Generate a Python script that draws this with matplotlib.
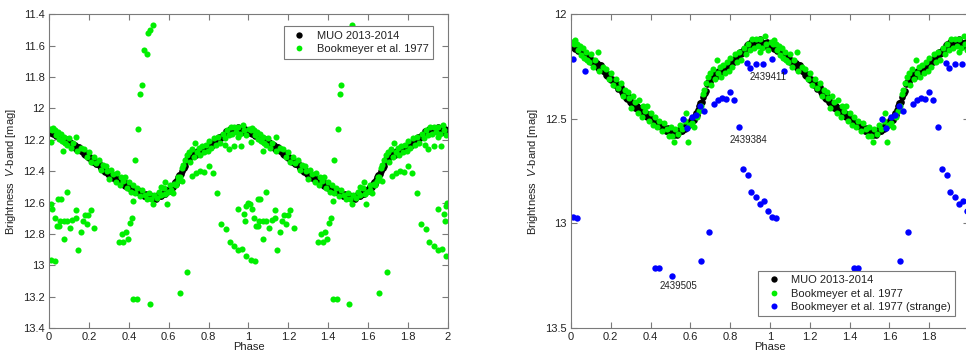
import numpy as np
import matplotlib
matplotlib.use('Agg')
import matplotlib.pyplot as plt
from matplotlib.ticker import FuncFormatter

plt.rcParams['font.family'] = ['Liberation Sans', 'DejaVu Sans']
plt.rcParams['mathtext.fontset'] = 'custom'
plt.rcParams['mathtext.it'] = 'Liberation Sans:italic'
plt.rcParams['mathtext.rm'] = 'Liberation Sans'

# MUO 2013-2014 photometry, one cycle (phase, V mag)
muo_phase = [
    0.000, 0.010, 0.020, 0.030, 0.040, 0.050, 0.060, 0.070, 0.080, 0.090,
    0.100, 0.110, 0.120, 0.130, 0.140, 0.150, 0.160, 0.170, 0.180, 0.190,
    0.200, 0.210, 0.220, 0.230, 0.240, 0.250, 0.260, 0.270, 0.280, 0.290,
    0.300, 0.310, 0.320, 0.330, 0.340, 0.350, 0.360, 0.370, 0.380, 0.390,
    0.400, 0.410, 0.420, 0.430, 0.440, 0.450, 0.460, 0.470, 0.480, 0.490,
    0.500, 0.510, 0.520, 0.530, 0.540, 0.550, 0.560, 0.570, 0.580, 0.590,
    0.600, 0.610, 0.620, 0.630, 0.640, 0.650, 0.660, 0.670, 0.680, 0.690,
    0.700, 0.710, 0.720, 0.730, 0.740, 0.750, 0.760, 0.770, 0.780, 0.790,
    0.800, 0.810, 0.820, 0.830, 0.840, 0.850, 0.860, 0.870, 0.880, 0.890,
    0.900, 0.910, 0.920, 0.930, 0.940, 0.950, 0.960, 0.970, 0.980, 0.990,
    0.005, 0.015, 0.025, 0.035, 0.045, 0.055, 0.065, 0.075, 0.085, 0.095,
    0.105, 0.115, 0.125, 0.135, 0.145, 0.155, 0.165, 0.175, 0.185, 0.195,
    0.205, 0.215, 0.225, 0.235, 0.245, 0.255, 0.265, 0.275, 0.285, 0.295,
    0.305, 0.315, 0.325, 0.335, 0.345, 0.355, 0.365, 0.375, 0.385, 0.395,
    0.405, 0.415, 0.425, 0.435, 0.445, 0.455, 0.465, 0.475, 0.485, 0.495,
    0.505, 0.515, 0.525, 0.535, 0.545, 0.555, 0.565, 0.575, 0.585, 0.595,
    0.605, 0.615, 0.625, 0.635, 0.645, 0.655, 0.665, 0.675, 0.685, 0.695,
    0.705, 0.715, 0.725, 0.735, 0.745, 0.755, 0.765, 0.775, 0.785, 0.795,
    0.805, 0.815, 0.825, 0.835, 0.845, 0.855, 0.865, 0.875, 0.885, 0.895,
    0.905, 0.915, 0.925, 0.935, 0.945, 0.955, 0.965, 0.975, 0.985, 0.995,
]
muo_mag = [
    12.156, 12.148, 12.165, 12.152, 12.170, 12.167, 12.193, 12.192, 12.212, 12.205,
    12.226, 12.223, 12.244, 12.233, 12.250, 12.244, 12.273, 12.275, 12.297, 12.293,
    12.316, 12.316, 12.340, 12.332, 12.352, 12.349, 12.379, 12.382, 12.405, 12.402,
    12.426, 12.424, 12.446, 12.436, 12.454, 12.449, 12.475, 12.474, 12.493, 12.486,
    12.506, 12.503, 12.524, 12.513, 12.530, 12.524, 12.547, 12.543, 12.559, 12.549,
    12.566, 12.560, 12.577, 12.562, 12.567, 12.547, 12.557, 12.541, 12.544, 12.522,
    12.526, 12.503, 12.503, 12.472, 12.459, 12.422, 12.417, 12.381, 12.366, 12.324,
    12.323, 12.299, 12.300, 12.277, 12.282, 12.264, 12.277, 12.261, 12.264, 12.242,
    12.246, 12.226, 12.230, 12.202, 12.202, 12.179, 12.187, 12.168, 12.169, 12.144,
    12.146, 12.134, 12.146, 12.126, 12.134, 12.119, 12.141, 12.136, 12.151, 12.140,
    12.144, 12.159, 12.155, 12.175, 12.164, 12.186, 12.189, 12.207, 12.197, 12.219,
    12.217, 12.236, 12.235, 12.256, 12.243, 12.265, 12.271, 12.291, 12.284, 12.308,
    12.308, 12.330, 12.332, 12.356, 12.346, 12.370, 12.377, 12.398, 12.392, 12.417,
    12.417, 12.437, 12.437, 12.459, 12.447, 12.468, 12.471, 12.488, 12.478, 12.499,
    12.497, 12.516, 12.515, 12.536, 12.523, 12.542, 12.542, 12.556, 12.543, 12.561,
    12.555, 12.571, 12.566, 12.579, 12.553, 12.558, 12.546, 12.547, 12.522, 12.527,
    12.507, 12.505, 12.484, 12.480, 12.436, 12.426, 12.396, 12.378, 12.334, 12.327,
    12.303, 12.302, 12.285, 12.294, 12.269, 12.277, 12.266, 12.267, 12.242, 12.247,
    12.228, 12.230, 12.212, 12.216, 12.186, 12.189, 12.174, 12.173, 12.145, 12.148,
    12.132, 12.142, 12.132, 12.144, 12.122, 12.136, 12.135, 12.148, 12.134, 12.151,
]

# Bookmeyer et al. 1977, normal points
bk_phase = [
    0.005, 0.015, 0.020, 0.030, 0.035, 0.045, 0.050, 0.060, 0.065, 0.075,
    0.080, 0.090, 0.100, 0.110, 0.120, 0.137, 0.140, 0.160, 0.175, 0.190,
    0.200, 0.210, 0.225, 0.235, 0.250, 0.260, 0.270, 0.285, 0.290, 0.300,
    0.310, 0.320, 0.335, 0.340, 0.355, 0.360, 0.370, 0.380, 0.390, 0.400,
    0.410, 0.420, 0.430, 0.440, 0.455, 0.465, 0.480, 0.490, 0.500, 0.510,
    0.520, 0.525, 0.540, 0.550, 0.560, 0.575, 0.580, 0.590, 0.595, 0.610,
    0.620, 0.635, 0.645, 0.655, 0.665, 0.670, 0.680, 0.690, 0.700, 0.705,
    0.715, 0.725, 0.732, 0.740, 0.750, 0.755, 0.765, 0.775, 0.785, 0.795,
    0.800, 0.810, 0.825, 0.835, 0.845, 0.855, 0.870, 0.880, 0.890, 0.900,
    0.910, 0.920, 0.930, 0.940, 0.950, 0.960, 0.975, 0.980, 0.990, 0.950,
]
bk_mag = [
    12.13, 12.14, 12.125, 12.14, 12.17, 12.15, 12.195, 12.16, 12.21, 12.18,
    12.22, 12.23, 12.19, 12.25, 12.22, 12.18, 12.27, 12.25, 12.26, 12.31,
    12.28, 12.34, 12.31, 12.35, 12.33, 12.39, 12.36, 12.37, 12.40, 12.45,
    12.39, 12.42, 12.47, 12.41, 12.49, 12.44, 12.46, 12.44, 12.51, 12.47,
    12.53, 12.49, 12.54, 12.51, 12.56, 12.52, 12.55, 12.58, 12.54, 12.58,
    12.61, 12.55, 12.57, 12.53, 12.55, 12.51, 12.47, 12.61, 12.53, 12.52,
    12.54, 12.49, 12.46, 12.44, 12.38, 12.36, 12.33, 12.30, 12.28, 12.34,
    12.26, 12.31, 12.22, 12.28, 12.25, 12.30, 12.24, 12.28, 12.23, 12.27,
    12.21, 12.25, 12.19, 12.23, 12.18, 12.22, 12.16, 12.19, 12.14, 12.17,
    12.12, 12.16, 12.12, 12.15, 12.12, 12.16, 12.105, 12.14, 12.17, 12.18,
]

# Bookmeyer et al. 1977, "strange" points
st_phase = [
    0.012, 0.072, 0.012, 0.032, 0.422, 0.442, 0.506, 0.561, 0.583, 0.607,
    0.629, 0.649, 0.669, 0.655, 0.693, 0.718, 0.739, 0.759, 0.779, 0.800,
    0.821, 0.844, 0.863, 0.888, 0.906, 0.930, 0.950, 0.968, 0.990, 0.883,
    0.901, 0.928, 0.965,
]
st_mag = [
    12.215, 12.27, 12.969, 12.974, 13.212, 13.212, 13.249, 12.50, 12.545, 12.49,
    12.48, 12.44, 12.46, 13.18, 13.04, 12.43, 12.41, 12.40, 12.405, 12.37,
    12.41, 12.54, 12.74, 12.77, 12.85, 12.875, 12.905, 12.894, 12.94, 12.235,
    12.258, 12.239, 12.239,
]

# further scattered points shown only in the left panel
ex_phase = [
    0.008, 0.017, 0.047, 0.058, 0.089, 0.030, 0.055, 0.040, 0.050, 0.075,
    0.075, 0.089, 0.105, 0.117, 0.134, 0.134, 0.144, 0.159, 0.169, 0.180,
    0.189, 0.197, 0.210, 0.227, 0.351, 0.364, 0.373, 0.384, 0.394, 0.406,
    0.414, 0.423, 0.431, 0.448, 0.458, 0.466, 0.478, 0.490, 0.498, 0.508,
    0.520, 0.949, 0.980, 0.985, 0.990, 0.996,
]
ex_mag = [
    12.61, 12.64, 12.58, 12.58, 12.53, 12.70, 12.72, 12.75, 12.75, 12.83,
    12.72, 12.72, 12.76, 12.71, 12.70, 12.65, 12.90, 12.79, 12.72, 12.68,
    12.74, 12.68, 12.65, 12.76, 12.85, 12.80, 12.85, 12.79, 12.83, 12.73,
    12.70, 12.59, 12.33, 12.13, 11.91, 11.85, 11.63, 11.655, 11.52, 11.50,
    11.47, 12.64, 12.67, 12.72, 12.62, 12.60,
]

labels = ['2439411', '2439384', '2439505']
label_phase = [0.99, 0.89, 0.54]
label_mag = [12.30, 12.60, 13.30]


def two_cycles(p, m):
    p = np.asarray(p)
    return np.concatenate([p, p + 1]), np.concatenate([m, m])


GREEN = '#00ee00'
GRAY = '#7a7a7a'
TXT = '#222222'


def style(ax, ylim, yticks, hide_last_x=False):
    ax.set_xlim(0, 2)
    ax.set_ylim(ylim[1], ylim[0])
    ax.set_xticks(np.arange(0, 2.01, 0.2))
    ax.set_yticks(yticks)
    ax.xaxis.set_major_formatter(FuncFormatter(
        lambda v, pos: '' if (hide_last_x and v > 1.99) else '%g' % round(v, 3)))
    ax.yaxis.set_major_formatter(FuncFormatter(lambda v, pos: '%g' % round(v, 3)))
    ax.tick_params(direction='in', length=4, width=0.8, color=GRAY,
                   labelsize=8, labelcolor=TXT, top=True, right=True, pad=3)
    for s in ax.spines.values():
        s.set_color(GRAY)
        s.set_linewidth(0.8)
    ax.set_xlabel('Phase', fontsize=8, color=TXT, labelpad=0)
    ax.set_ylabel('Brightness  $\\it{V}$-band [mag]', fontsize=8, color=TXT, labelpad=4)


fig = plt.figure(figsize=(9.66, 3.56), dpi=100)

# left panel: all Bookmeyer points in green
ax1 = fig.add_axes([0.0507, 0.0787, 0.413, 0.881])
x, y = two_cycles(muo_phase, muo_mag)
ax1.plot(x, y, 'o', color='k', ms=4.8, mew=0, label='MUO 2013-2014')
gp = list(bk_phase) + list(st_phase) + list(ex_phase)
gm = list(bk_mag) + list(st_mag) + list(ex_mag)
x, y = two_cycles(gp, gm)
ax1.plot(x, y, 'o', color=GREEN, ms=4.4, mew=0, label='Bookmeyer et al. 1977')
style(ax1, (11.4, 13.4), np.arange(11.4, 13.41, 0.2))
leg = ax1.legend(loc='upper right', bbox_to_anchor=(0.977, 0.979), fontsize=8,
                 fancybox=False, edgecolor=GRAY, framealpha=1, labelspacing=0.3,
                 handletextpad=0.6, borderpad=0.4, markerscale=0.95)
leg.get_frame().set_linewidth(0.8)
for t in leg.get_texts():
    t.set_color(TXT)

# right panel: normal and strange points separated
ax2 = fig.add_axes([0.5911, 0.0787, 0.412, 0.881])
x, y = two_cycles(muo_phase, muo_mag)
ax2.plot(x, y, 'o', color='k', ms=4.8, mew=0, label='MUO 2013-2014')
x, y = two_cycles(bk_phase, bk_mag)
ax2.plot(x, y, 'o', color=GREEN, ms=4.4, mew=0, label='Bookmeyer et al. 1977')
x, y = two_cycles(st_phase, st_mag)
ax2.plot(x, y, 'o', color='#0000ff', ms=4.6, mew=0,
         label='Bookmeyer et al. 1977 (strange)')
style(ax2, (12, 13.5), [12, 12.5, 13, 13.5], hide_last_x=True)
for lab, px, py in zip(labels, label_phase, label_mag):
    ax2.text(px, py, lab, fontsize=7, color=TXT, ha='center', va='center')
leg = ax2.legend(loc='lower right', bbox_to_anchor=(0.98, 0.019), fontsize=8,
                 fancybox=False, edgecolor=GRAY, framealpha=1, labelspacing=0.3,
                 handletextpad=0.6, borderpad=0.4, markerscale=0.95)
leg.get_frame().set_linewidth(0.8)
for t in leg.get_texts():
    t.set_color(TXT)

fig.savefig('out.png', dpi=100)
